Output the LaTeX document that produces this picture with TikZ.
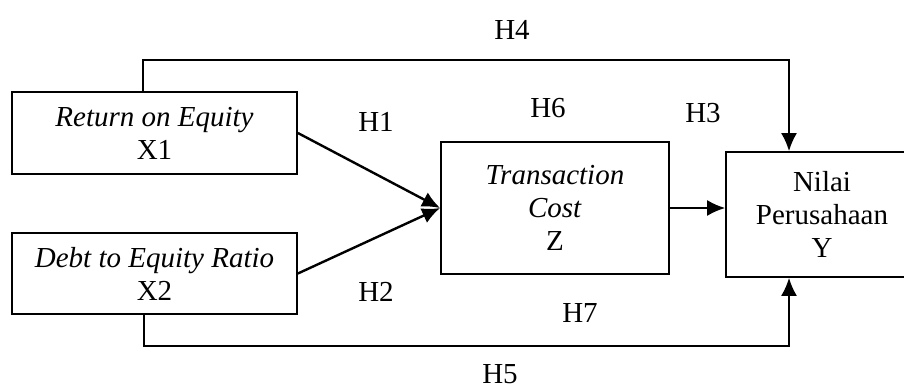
\documentclass[tikz,border=0pt]{standalone}
\usepackage{fontspec}
\setmainfont{Liberation Serif}
\usetikzlibrary{arrows.meta}
\tikzstyle{arrow} = [line width=1.8pt,-{Latex[length=18pt,width=16pt]}]
\tikzstyle{varbox} = [draw,line width=1.8pt,align=center,inner sep=0pt,font=\fontsize{29}{33}\selectfont]
\tikzstyle{hyp} = [inner sep=0pt,font=\fontsize{29}{33}\selectfont]

\begin{document}
\begin{tikzpicture}[x=1pt,y=1pt,yscale=-1,xscale=1]
\clip (0,0) rectangle (904,391);
\fill[white] (0,0) rectangle (904,391);

% variable boxes
\node[varbox,minimum width=285pt,minimum height=82pt] (x1) at (154.5,133) {\textit{Return on Equity}\\X1};
\node[varbox,minimum width=285pt,minimum height=81pt] (x2) at (154.5,273.5) {\textit{Debt to Equity Ratio}\\X2};
\node[varbox,minimum width=228pt,minimum height=132pt] (z) at (555,208) {\textit{Transaction}\\\textit{Cost}\\Z};
\node[varbox,minimum width=192pt,minimum height=125pt] (y) at (822,214.5) {Nilai\\Perusahaan\\Y};

% corner points of the long paths
\coordinate (h4a) at (143,60);
\coordinate (h4b) at (789,60);
\coordinate (h5a) at (144,346);
\coordinate (h5b) at (789,346);

% paths
\draw[arrow,line width=2.4pt] (x1.east) -- (z.west);
\draw[arrow,line width=2.4pt] (x2.east) -- (z.west);
\draw[arrow] (z.east) -- (z.east -| y.west);
\draw[arrow] (x1.north -| h4a) -- (h4a) -- (h4b) -- (y.north -| h4b);
\draw[arrow] (x2.south -| h5a) -- (h5a) -- (h5b) -- (y.south -| h5b);

% hypothesis labels
\node[hyp] (h1) at (376,122) {H1};
\node[hyp] (h2) at (376,292) {H2};
\node[hyp] (h3) at (703,113) {H3};
\node[hyp] (h4) at (512,30) {H4};
\node[hyp] (h5) at (500,374) {H5};
\node[hyp] (h6) at (548,108) {H6};
\node[hyp] (h7) at (580,313) {H7};

\end{tikzpicture}
\end{document}
